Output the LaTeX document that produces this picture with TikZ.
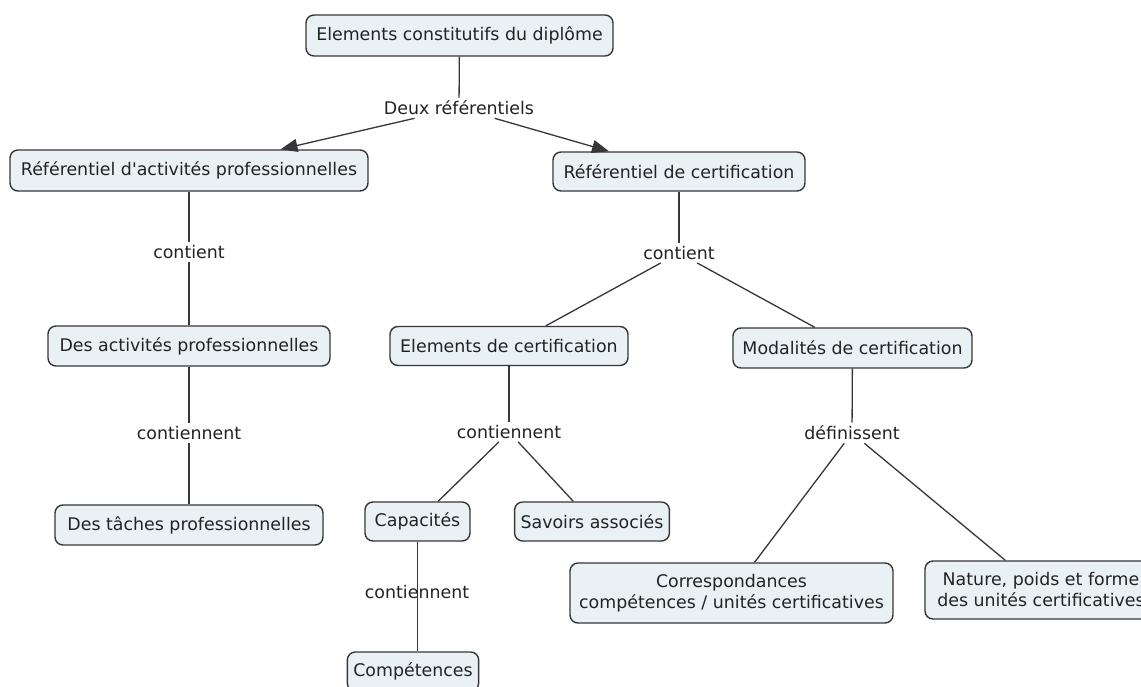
\documentclass[tikz,border=0pt]{standalone}
\usepackage{fontspec}
\setmainfont{DejaVu Sans}
\usetikzlibrary{arrows.meta}
\definecolor{boxfill}{RGB}{233,241,245}
\definecolor{boxline}{RGB}{55,55,55}
\definecolor{txt}{RGB}{35,35,35}
\tikzset{
  concept/.style={draw=boxline, line width=1.4pt, fill=boxfill, rounded corners=8pt,
    text=txt, font=\fontsize{17.4}{21}\selectfont, inner xsep=6pt, inner ysep=4pt, align=center},
  lab/.style={text=txt, font=\fontsize{17.4}{21}\selectfont, inner sep=3pt},
  link/.style={draw=boxline, line width=1.3pt},
  arr/.style={link, -{Triangle[length=17pt,width=13pt]}}
}
\begin{document}
\begin{tikzpicture}[x=1pt,y=-1pt]
\useasboundingbox[fill=white] (0,0) rectangle (1141,686);
% concepts
\node[concept, minimum width=307pt, minimum height=41pt] (top) at (459.5,35.5) {Elements constitutifs du diplôme};
\node[concept, minimum width=358pt, minimum height=41pt] (ref1) at (189,170.5) {Référentiel d\textquotesingle activités professionnelles};
\node[concept, minimum width=252pt, minimum height=39pt] (ref2) at (679,171.5) {Référentiel de certification};
\node[concept, minimum width=282pt, minimum height=40pt] (act) at (189,346) {Des activités professionnelles};
\node[concept, minimum width=268pt, minimum height=40pt] (taches) at (189,525) {Des tâches professionnelles};
\node[concept, minimum width=238pt, minimum height=39pt] (elem) at (509,346) {Elements de certification};
\node[concept, minimum width=239pt, minimum height=40pt] (modal) at (852.5,348) {Modalités de certification};
\node[concept, minimum width=105pt, minimum height=39pt] (capac) at (417.5,521.5) {Capacités};
\node[concept, minimum width=130pt, minimum height=39pt] (compet) at (413,671.5) {Compétences};
\node[concept, minimum width=152pt, minimum height=39pt] (savoirs) at (592,521.5) {Savoirs associés};
\node[concept, minimum width=323pt, minimum height=60pt] (corresp) at (731.5,593) {Correspondances\\compétences / unités certificatives};
\node[concept, minimum width=232pt, minimum height=58pt] (nature) at (1041,590) {Nature, poids et forme\\des unités certificatives};
% link labels
\node[lab] (dr) at (459,108) {Deux référentiels};
\node[lab] (c1) at (189,252) {contient};
\node[lab] (c2) at (189,433) {contiennent};
\node[lab] (c3) at (679,253) {contient};
\node[lab] (c4) at (509,432) {contiennent};
\node[lab] (d1) at (852,433) {définissent};
% connectors
\draw[link] (top) -- (dr);
\draw[arr] (dr) -- (ref1);
\draw[arr] (dr) -- (ref2);
\draw[link] (ref1) -- (c1);
\draw[link] (c1) -- (act);
\draw[link] (act) -- (c2);
\draw[link] (c2) -- (taches);
\draw[link] (ref2) -- (c3);
\draw[link] (c3) -- (elem);
\draw[link] (c3) -- (modal);
\draw[link] (elem) -- (c4);
\draw[link] (c4) -- (capac);
\draw[link] (c4) -- (savoirs);
\draw[link] (capac.south) -- (capac.south |- compet.north);
\node[lab] (c5) at (417,592) {contiennent};
\draw[link] (modal) -- (d1);
\draw[link] (d1) -- (corresp);
\draw[link] (d1) -- (nature);
\end{tikzpicture}
\end{document}
